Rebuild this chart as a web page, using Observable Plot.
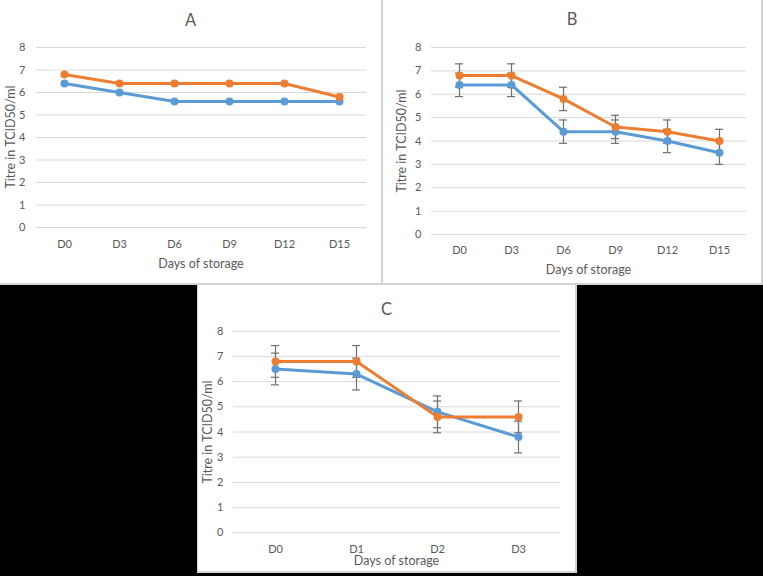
<!DOCTYPE html>
<html>
<head>
<meta charset="utf-8">
<script src="https://cdn.jsdelivr.net/npm/d3@7"></script>
<script src="https://cdn.jsdelivr.net/npm/@observablehq/plot@0.6"></script>
<style>
  html, body { margin: 0; padding: 0; }
  body { background: #000; width: 763px; height: 576px; position: relative; overflow: hidden; font-family: Lato, "Open Sans", sans-serif; }
  .abs { position: absolute; }
  .lbl { position: absolute; transform: translate(-50%, -50%); line-height: 1; white-space: nowrap; color: #595959; }
  .ylbl { position: absolute; transform: translate(-50%, -50%) rotate(-90deg); line-height: 1; white-space: nowrap; color: #595959; }
</style>
</head>
<body>
<div class="abs" style="left:0;top:0;width:763px;height:283px;background:#fff;border-bottom:2px solid #d4d4d4;"></div>
<div class="abs" style="left:381px;top:0;width:2px;height:285px;background:#d4d4d4;"></div>
<div class="abs" style="left:761px;top:0;width:2px;height:285px;background:#d4d4d4;"></div>
<div class="abs" style="left:197px;top:285px;width:377px;height:286px;background:#fff;border-left:1px solid #d4d4d4;border-right:2px solid #d4d4d4;border-bottom:2px solid #d4d4d4;"></div>
<div id="root"></div>
<script>
// ---- data ----
const daysAB = ["D0", "D3", "D6", "D9", "D12", "D15"];
const daysC = ["D0", "D1", "D2", "D3"];
const yTicks = [0, 1, 2, 3, 4, 5, 6, 7, 8];

const aBlue   = [6.4, 6.0, 5.6, 5.6, 5.6, 5.6];
const aOrange = [6.8, 6.4, 6.4, 6.4, 6.4, 5.8];

const bBlue      = [6.4, 6.4, 4.4, 4.4, 4.0, 3.5];
const bOrange    = [6.8, 6.8, 5.8, 4.6, 4.4, 4.0];
const bBlueErr   = [0.5, 0.5, 0.5, 0.5, 0.5, 0.5];
const bOrangeErr = [0.5, 0.5, 0.5, 0.5, 0.5, 0.5];

const cBlue      = [6.5, 6.3, 4.8, 3.8];
const cOrange    = [6.8, 6.8, 4.6, 4.6];
const cBlueErr   = [0.63, 0.63, 0.63, 0.63];
const cOrangeErr = [0.63, 0.63, 0.63, 0.63];

const panelTitles = ["A", "B", "C"];
const xTitle = "Days of storage";
const yTitle = "Titre in TCID50/ml";

const BLUE = "#5B9BD5", ORANGE = "#ED7D31";

function rows(days, vals, errs) {
  return days.map((d, i) => ({day: d, value: vals[i], err: errs ? errs[i] : null}));
}

function makePanel(cfg) {
  const {left, top, width, height, mL, mR, mT, mB, days, blue, orange, blueErr, orangeErr, tickPadX, tickPadY} = cfg;
  const plotW = width - mL - mR;
  const step = plotW / days.length;
  const p = 1 - 8 / step;
  const bRows = rows(days, blue, blueErr);
  const oRows = rows(days, orange, orangeErr);
  const marks = [Plot.gridY(yTicks, {stroke: "#d9d9d9", strokeOpacity: 1, strokeWidth: 1})];
  if (blueErr) {
    for (const r of [bRows, oRows]) {
      marks.push(Plot.ruleX(r, {x: "day", y1: d => d.value - d.err, y2: d => d.value + d.err, stroke: "#707070", strokeWidth: 1.2}));
      marks.push(Plot.tickY(r, {x: "day", y: d => d.value + d.err, stroke: "#707070", strokeWidth: 1.2}));
      marks.push(Plot.tickY(r, {x: "day", y: d => d.value - d.err, stroke: "#707070", strokeWidth: 1.2}));
    }
  }
  marks.push(Plot.line(bRows, {x: "day", y: "value", stroke: BLUE, strokeWidth: 3}));
  marks.push(Plot.dot(bRows, {x: "day", y: "value", fill: BLUE, r: 4}));
  marks.push(Plot.line(oRows, {x: "day", y: "value", stroke: ORANGE, strokeWidth: 3}));
  marks.push(Plot.dot(oRows, {x: "day", y: "value", fill: ORANGE, r: 4}));
  const svg = Plot.plot({
    width, height,
    marginLeft: mL, marginRight: mR, marginTop: mT, marginBottom: mB,
    style: {fontFamily: "Lato, 'Open Sans', sans-serif", fontSize: "11px", color: "#595959", background: "transparent", overflow: "visible"},
    x: {type: "band", domain: days, paddingInner: p, paddingOuter: p / 2, label: null, tickSize: 0, tickPadding: tickPadX},
    y: {domain: [0, 8], ticks: yTicks, tickFormat: d => String(d), label: null, tickSize: 0, tickPadding: tickPadY},
    marks
  });
  const wrap = document.createElement("div");
  wrap.style.cssText = `position:absolute;left:${left}px;top:${top}px;width:${width}px;height:${height}px;`;
  wrap.appendChild(svg);
  document.getElementById("root").appendChild(wrap);

  const add = (cls, text, x, y, size) => {
    const el = document.createElement("div");
    el.className = cls;
    el.textContent = text;
    el.style.left = x + "px";
    el.style.top = y + "px";
    el.style.fontSize = size + "px";
    document.getElementById("root").appendChild(el);
  };
  add("lbl", cfg.title, cfg.titleX, cfg.titleY, 16.5);
  add("lbl", xTitle, left + mL + plotW / 2, cfg.xTitleY, 12.5);
  add("ylbl", yTitle, cfg.yTitleX, top + mT + (height - mT - mB) / 2, 12.5);
}

makePanel({left: 0, top: 0, width: 381, height: 284, mL: 36, mR: 15, mT: 47, mB: 57,
  days: daysAB, blue: aBlue, orange: aOrange, blueErr: null, orangeErr: null,
  tickPadX: 13, tickPadY: 11, title: panelTitles[0], titleX: 190.5, titleY: 20, xTitleY: 263.5, yTitleX: 11});

makePanel({left: 383, top: 0, width: 379, height: 284, mL: 48, mR: 16, mT: 47, mB: 50,
  days: daysAB, blue: bBlue, orange: bOrange, blueErr: bBlueErr, orangeErr: bOrangeErr,
  tickPadX: 12, tickPadY: 10, title: panelTitles[1], titleX: 572, titleY: 19, xTitleY: 270, yTitleX: 402});

makePanel({left: 197, top: 284, width: 379, height: 288, mL: 36, mR: 16, mT: 46.7, mB: 39.7,
  days: daysC, blue: cBlue, orange: cOrange, blueErr: cBlueErr, orangeErr: cOrangeErr,
  tickPadX: 12, tickPadY: 10, title: panelTitles[2], titleX: 386.5, titleY: 309, xTitleY: 561, yTitleX: 208});
</script>
</body>
</html>
